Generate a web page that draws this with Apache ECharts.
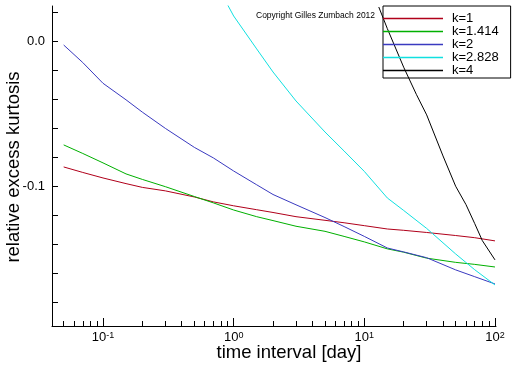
<!DOCTYPE html>
<html>
<head>
<meta charset="utf-8">
<script src="https://cdn.jsdelivr.net/npm/echarts@6/dist/echarts.min.js"></script>
<style>html,body{margin:0;padding:0;background:#fff}#c{width:512px;height:366px}</style>
</head>
<body>
<div id="c"></div>
<script>
// ---- data ----
const seriesNames = ['k=1', 'k=1.414', 'k=2', 'k=2.828', 'k=4'];
const tMain = [0.05,0.07,0.1,0.15,0.2,0.3,0.5,0.7,1,1.5,2,3,5,7,10,15,20,30,50,70,100];
const kurtK1 = [-0.0869,-0.0907,-0.0945,-0.0984,-0.1010,-0.1034,-0.1076,-0.1110,-0.1137,-0.1164,-0.1183,-0.1212,-0.1237,-0.1254,-0.1274,-0.1297,-0.1306,-0.1321,-0.1342,-0.1357,-0.1379];
const kurtK1414 = [-0.0717,-0.0776,-0.0841,-0.0917,-0.0955,-0.1005,-0.1073,-0.1117,-0.1166,-0.1212,-0.1239,-0.1278,-0.1313,-0.1348,-0.1386,-0.1434,-0.1457,-0.1498,-0.1527,-0.1541,-0.1559];
const kurtK2 = [-0.0028,-0.0149,-0.0292,-0.0406,-0.0491,-0.0603,-0.0734,-0.0807,-0.0897,-0.0992,-0.1059,-0.1130,-0.1218,-0.1280,-0.1348,-0.1428,-0.1455,-0.1495,-0.1579,-0.1626,-0.1676];
const tK2828 = [0.9,1,1.5,2,3,5,7,10,15,20,30,50,70,100];
const kurtK2828 = [0.0248,0.0172,-0.0055,-0.0214,-0.0414,-0.0628,-0.0759,-0.0900,-0.1083,-0.1169,-0.1293,-0.1469,-0.1578,-0.1683];
const tK4 = [12.9,15,20,25,30,40,50,60,70,80,100];
const kurtK4 = [0.0234,0.0085,-0.0181,-0.0368,-0.0510,-0.0793,-0.1002,-0.1129,-0.1260,-0.1377,-0.1510];
const xMajorTicks = [0.1, 1, 10, 100];
const xMinorTicks = [0.05,0.06,0.07,0.08,0.09,0.2,0.3,0.4,0.5,0.6,0.7,0.8,0.9,2,3,4,5,6,7,8,9,20,30,40,50,60,70,80,90];
const yTicks = [0.02,0,-0.02,-0.04,-0.06,-0.08,-0.1,-0.12,-0.14,-0.16,-0.18];
const yLabels = [0, -0.1];

const colors = ['#b0001a', '#00b000', '#3a3ac0', '#10e0e0', '#000000'];
const FONT = '"Liberation Sans", Arial, Helvetica, sans-serif';

function pairs(xs, ys) { return xs.map((x, i) => [x, ys[i]]); }
const seriesData = [
  pairs(tMain, kurtK1), pairs(tMain, kurtK1414), pairs(tMain, kurtK2),
  pairs(tK2828, kurtK2828), pairs(tK4, kurtK4)
];

const X_MIN = 0.0407, X_MAX = 101.8, Y_MIN = -0.1966, Y_MAX = 0.0241;
const gridBox = { left: 52, right: 16, top: 6, bottom: 40 };

const chart = echarts.init(document.getElementById('c'), null, { renderer: 'canvas' });
chart.setOption({
  animation: false,
  backgroundColor: '#fff',
  grid: [Object.assign({}, gridBox), Object.assign({}, gridBox)],
  xAxis: [{
    type: 'log', logBase: 10, gridIndex: 0, min: X_MIN, max: X_MAX,
    axisLine: { onZero: false, lineStyle: { color: '#000', width: 1 } },
    axisTick: { inside: true, length: 8, customValues: xMajorTicks, lineStyle: { color: '#000' } },
    axisLabel: {
      customValues: xMajorTicks, margin: 5, color: '#000',
      formatter: v => '{b|10}{s|' + Math.round(Math.log10(v)) + '}',
      rich: {
        b: { fontFamily: FONT, fontSize: 13, color: '#000' },
        s: { fontFamily: FONT, fontSize: 9, color: '#000', padding: [0, 0, 4, 0] }
      }
    },
    splitLine: { show: false }
  }, {
    type: 'log', logBase: 10, gridIndex: 1, min: X_MIN, max: X_MAX,
    axisLine: { show: false, onZero: false },
    axisTick: { inside: true, length: 5, customValues: xMinorTicks, lineStyle: { color: '#000' } },
    axisLabel: { show: false },
    splitLine: { show: false }
  }],
  yAxis: [{
    type: 'value', gridIndex: 0, min: Y_MIN, max: Y_MAX,
    axisLine: { show: true, onZero: false, lineStyle: { color: '#000', width: 1 } },
    axisTick: { show: true, inside: true, length: 6, customValues: yTicks, lineStyle: { color: '#000' } },
    axisLabel: { customValues: yLabels, margin: 7, color: '#000', fontFamily: FONT, fontSize: 13,
      formatter: v => v.toFixed(1) },
    splitLine: { show: false }
  }, {
    type: 'value', gridIndex: 1, min: Y_MIN, max: Y_MAX, show: false
  }],
  legend: {
    orient: 'vertical', left: 383, top: 6, icon: 'rect',
    padding: [6, 12, 1, 0], itemGap: 0, itemWidth: 60, itemHeight: 1.5,
    borderColor: '#000', borderWidth: 1, backgroundColor: 'transparent',
    textStyle: { fontFamily: FONT, fontSize: 13, color: '#000', lineHeight: 13, height: 13, padding: [0, 0, 0, 4] },
    data: seriesNames
  },
  series: seriesNames.map((name, i) => ({
    name: name, type: 'line', xAxisIndex: 0, yAxisIndex: 0,
    data: seriesData[i], symbol: 'none', showSymbol: false, clip: true,
    lineStyle: { color: colors[i], width: 1 }, itemStyle: { color: colors[i] },
    z: 3
  })),
  graphic: [
    { type: 'text', left: 256, top: 11, z: 10,
      style: { text: 'Copyright Gilles Zumbach 2012', font: '8.5px ' + FONT, fill: '#000' } },
    { type: 'text', x: 289, y: 353, z: 10,
      style: { text: 'time interval [day]', font: '18.5px ' + FONT, fill: '#000', align: 'center', verticalAlign: 'middle' } },
    { type: 'text', x: 14, y: 167, rotation: Math.PI / 2, z: 10,
      style: { text: 'relative excess kurtosis', font: '18.5px ' + FONT, fill: '#000', align: 'center', verticalAlign: 'middle' } }
  ]
});
</script>
</body>
</html>
